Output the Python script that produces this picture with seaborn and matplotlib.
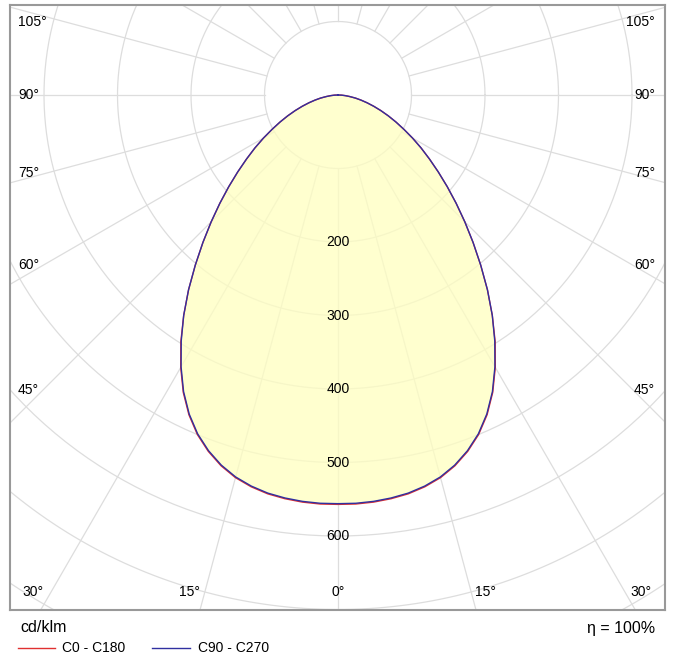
import numpy as np
import pandas as pd
import seaborn as sns
import matplotlib
matplotlib.use("Agg")
import matplotlib.pyplot as plt
plt.rcParams["font.family"] = "Liberation Sans"

gamma = [0, 2.5, 5, 7.5, 10, 12.5, 15, 17.5, 20, 22.5, 25, 27.5, 30, 32.5, 35, 37.5, 40, 42.5, 45,
         47.5, 50, 52.5, 55, 57.5, 60, 62.5, 65, 67.5, 70, 72.5, 75, 77.5, 80, 82.5, 85, 87.5, 90]
c0_c180 = [557, 557, 556, 554, 551, 546, 539, 529, 516, 500, 480, 456, 428, 398, 366, 334, 302, 272, 244,
           218, 194, 172, 152, 134, 117, 101, 87, 74, 62, 51, 41, 32, 24, 16, 10, 5, 0]
c90_c270 = [556, 556, 555, 553, 550, 545, 538, 528, 515, 499, 479, 455, 427, 397, 366, 334, 302, 272, 244,
            218, 194, 172, 152, 134, 117, 101, 87, 74, 62, 51, 41, 32, 24, 16, 10, 5, 0]
radial_labels = [200, 300, 400, 500, 600]
angle_labels = [0, 15, 30, 45, 60, 75, 90, 105]

def to_xy(vals):
    g = np.deg2rad(np.array(gamma[::-1] + gamma[1:]))
    sign = np.array([-1]*len(gamma) + [1]*(len(gamma)-1))
    v = np.array(vals[::-1] + vals[1:])
    return sign * v * np.sin(g), -v * np.cos(g)

fig = plt.figure(figsize=(6.73, 6.62), dpi=100)
ax = fig.add_axes([10/673, 52/662, 655/673, 605/662])
sc = 0.735
ax.set_xlim(-328/sc, 327/sc)
ax.set_ylim(-515/sc, 90/sc)
ax.set_aspect("auto")
ax.set_xticks([]); ax.set_yticks([])
for s in ax.spines.values():
    s.set_color("#999999"); s.set_linewidth(1.5)

grid = "#dddddd"
for r in range(100, 1300, 100):
    t = np.linspace(0, 2*np.pi, 400)
    ax.plot(r*np.cos(t), r*np.sin(t), color=grid, lw=0.9, zorder=1)
for a in range(0, 360, 15):
    t = np.deg2rad(a)
    ax.plot([100*np.sin(t), 1500*np.sin(t)], [-100*np.cos(t), -1500*np.cos(t)], color=grid, lw=0.9, zorder=1)

x0, y0 = to_xy(c0_c180)
x1, y1 = to_xy(c90_c270)
ax.fill(x1, y1, color="#ffffc0", alpha=0.75, zorder=2, lw=0)
df0 = pd.DataFrame({"x": x0, "y": y0})
df1 = pd.DataFrame({"x": x1, "y": y1})
sns.lineplot(data=df0, x="x", y="y", sort=False, estimator=None, color="#e03030", lw=1, ax=ax, zorder=3)
sns.lineplot(data=df1, x="x", y="y", sort=False, estimator=None, color="#3030a0", lw=1, ax=ax, zorder=4)
ax.set_xlabel(""); ax.set_ylabel("")

for r in radial_labels:
    ax.text(0, -r, str(r), ha="center", va="center", fontsize=10, zorder=5)

fs = 10
for a in angle_labels:
    if a <= 30:
        y = -497/sc
        xs = {0: [0], 15: [-148/sc, 148/sc], 30: [-305/sc, 303/sc]}[a]
        for xx in xs:
            ax.text(xx, y, f"{a}°", ha="center", va="center", fontsize=fs)
    else:
        ypix = {45: 390, 60: 265, 75: 173, 90: 95, 105: 22}[a]
        y = (95 - ypix)/sc
        ax.text(-320/sc, y, f"{a}°", ha="left", va="center", fontsize=fs)
        ax.text(317/sc, y, f"{a}°", ha="right", va="center", fontsize=fs)

fig.text(20/673, 1-628/662, "cd/klm", fontsize=11.5, va="center")
fig.text(655/673, 1-628/662, "η = 100%", fontsize=11.5, va="center", ha="right")
fig.add_artist(plt.Line2D([18/673, 55/673], [1-648/662]*2, color="#e03030", lw=1))
fig.text(62/673, 1-648/662, "C0 - C180", fontsize=10, va="center")
fig.add_artist(plt.Line2D([152/673, 190/673], [1-648/662]*2, color="#3030a0", lw=1))
fig.text(198/673, 1-648/662, "C90 - C270", fontsize=10, va="center")
fig.savefig("out.png", dpi=100)
